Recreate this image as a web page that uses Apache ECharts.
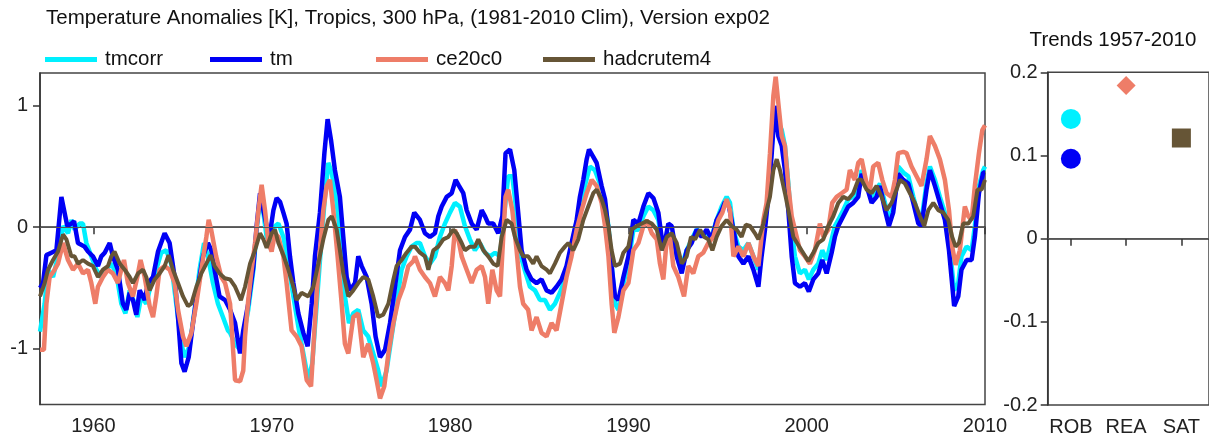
<!DOCTYPE html>
<html><head><meta charset="utf-8">
<script src="https://cdn.jsdelivr.net/npm/echarts@6/dist/echarts.min.js"></script>
<style>html,body{margin:0;padding:0;background:#fff}#c{width:1209px;height:439px}</style>
</head><body><div id="c"></div>
<script>
const seriesNames = ['tmcorr', 'tm', 'ce20c0', 'hadcrutem4'];
const seriesColors = ['#00F0FF', '#0000F5', '#EE7D68', '#665536'];
const yearTicks = [1960, 1970, 1980, 1990, 2000, 2010];
const anomalyTicks = [-1, 0, 1];
const trendCategories = ['ROB', 'REA', 'SAT'];
const trendSeries = ['tmcorr', 'tm', 'ce20c0', 'hadcrutem4'];
const trendCategoryOf = ['ROB', 'ROB', 'REA', 'SAT'];
const trendValues = [0.144, 0.096, 0.184, 0.121];
const trendSymbols = ['circle', 'circle', 'diamond', 'rect'];

const tmcorr = [[1957.0,-0.86],[1957.07,-0.87],[1957.26,-0.63],[1957.45,-0.35],[1957.73,-0.41],[1958.01,-0.24],[1958.29,0.01],[1958.57,-0.05],[1958.76,0.06],[1958.94,-0.02],[1959.22,0.03],[1959.41,0.03],[1959.6,-0.13],[1959.88,-0.24],[1960.16,-0.35],[1960.44,-0.41],[1960.72,-0.35],[1961.0,-0.30],[1961.28,-0.38],[1961.56,-0.63],[1961.79,-0.71],[1962.03,-0.52],[1962.31,-0.63],[1962.46,-0.74],[1962.68,-0.57],[1962.96,-0.63],[1963.24,-0.46],[1963.52,-0.35],[1963.8,-0.21],[1964.08,-0.19],[1964.36,-0.30],[1964.64,-0.63],[1964.93,-0.96],[1965.11,-1.07],[1965.39,-0.98],[1965.67,-0.68],[1965.95,-0.35],[1966.2,-0.13],[1966.42,-0.24],[1966.7,-0.46],[1966.98,-0.63],[1967.26,-0.74],[1967.54,-0.85],[1967.66,-0.87],[1967.94,-0.96],[1968.22,-1.01],[1968.4,-0.90],[1968.68,-0.68],[1968.97,-0.35],[1969.15,-0.02],[1969.34,0.23],[1969.53,0.12],[1969.71,-0.08],[1969.99,-0.13],[1970.18,0.01],[1970.37,0.03],[1970.65,-0.08],[1970.93,-0.30],[1971.21,-0.57],[1971.49,-0.82],[1971.77,-1.04],[1972.05,-1.26],[1972.27,-1.12],[1972.52,-0.63],[1972.8,-0.08],[1972.98,0.25],[1973.17,0.53],[1973.36,0.45],[1973.64,0.20],[1973.92,-0.16],[1974.1,-0.57],[1974.33,-0.79],[1974.57,-0.71],[1974.85,-0.68],[1975.13,-0.85],[1975.41,-0.90],[1975.69,-1.04],[1975.97,-1.18],[1976.16,-1.31],[1976.44,-1.18],[1976.72,-0.90],[1977.0,-0.63],[1977.28,-0.35],[1977.56,-0.24],[1977.84,-0.16],[1978.12,-0.13],[1978.31,-0.13],[1978.59,-0.24],[1978.87,-0.30],[1979.15,-0.24],[1979.43,-0.08],[1979.71,0.03],[1979.99,0.12],[1980.27,0.20],[1980.55,0.17],[1980.83,0.01],[1981.11,-0.10],[1981.39,-0.19],[1981.67,-0.13],[1981.96,-0.21],[1982.24,-0.24],[1982.52,-0.21],[1982.8,-0.24],[1983.04,0.12],[1983.26,0.42],[1983.49,0.42],[1983.73,0.12],[1983.97,-0.24],[1984.24,-0.38],[1984.48,-0.49],[1984.76,-0.52],[1985.04,-0.60],[1985.32,-0.60],[1985.6,-0.68],[1985.88,-0.63],[1986.16,-0.54],[1986.44,-0.43],[1986.72,-0.24],[1987.0,-0.02],[1987.28,0.17],[1987.56,0.34],[1987.84,0.50],[1988.12,0.47],[1988.4,0.36],[1988.68,0.20],[1988.88,0.01],[1989.06,-0.30],[1989.25,-0.63],[1989.44,-0.68],[1989.72,-0.46],[1990.0,-0.30],[1990.28,-0.02],[1990.56,-0.02],[1990.84,0.09],[1991.12,0.17],[1991.4,0.14],[1991.68,0.06],[1991.96,-0.19],[1992.24,-0.05],[1992.43,-0.08],[1992.71,-0.24],[1992.99,-0.32],[1993.27,-0.19],[1993.55,-0.10],[1993.83,-0.02],[1994.11,-0.05],[1994.39,-0.05],[1994.67,-0.08],[1994.95,0.06],[1995.23,0.17],[1995.51,0.25],[1995.7,0.20],[1995.89,-0.02],[1996.17,-0.16],[1996.45,-0.19],[1996.73,-0.13],[1997.01,-0.24],[1997.29,-0.35],[1997.47,-0.19],[1997.66,0.03],[1997.85,0.28],[1998.04,0.67],[1998.22,0.94],[1998.41,0.86],[1998.6,0.80],[1998.78,0.67],[1998.97,0.36],[1999.16,-0.02],[1999.34,-0.24],[1999.62,-0.38],[1999.9,-0.35],[2000.12,-0.43],[2000.37,-0.35],[2000.65,-0.30],[2000.87,-0.19],[2001.12,-0.27],[2001.4,-0.10],[2001.58,0.01],[2001.77,0.06],[2002.05,0.14],[2002.33,0.23],[2002.61,0.25],[2002.89,0.31],[2003.08,0.47],[2003.36,0.36],[2003.64,0.25],[2003.92,0.31],[2004.11,0.36],[2004.39,0.20],[2004.61,0.06],[2004.85,0.17],[2005.13,0.50],[2005.42,0.45],[2005.7,0.42],[2005.98,0.25],[2006.26,0.09],[2006.44,0.06],[2006.72,0.36],[2006.91,0.50],[2007.19,0.39],[2007.47,0.25],[2007.75,0.12],[2007.98,-0.10],[2008.12,-0.30],[2008.27,-0.52],[2008.5,-0.46],[2008.68,-0.24],[2008.97,-0.16],[2009.25,-0.19],[2009.43,0.01],[2009.66,0.34],[2009.9,0.47],[2010.0,0.50]];

const tm = [[1957.0,-0.50],[1957.04,-0.49],[1957.17,-0.46],[1957.36,-0.23],[1957.64,-0.21],[1957.92,-0.19],[1958.2,0.25],[1958.35,0.14],[1958.53,0.01],[1958.76,0.03],[1958.91,0.05],[1959.13,-0.13],[1959.5,-0.16],[1959.69,-0.20],[1959.97,-0.24],[1960.25,-0.32],[1960.44,-0.24],[1960.63,-0.21],[1960.91,-0.13],[1961.09,-0.24],[1961.37,-0.35],[1961.65,-0.63],[1961.84,-0.68],[1962.03,-0.54],[1962.21,-0.60],[1962.4,-0.72],[1962.59,-0.52],[1962.87,-0.60],[1963.06,-0.46],[1963.34,-0.41],[1963.62,-0.20],[1963.99,-0.05],[1964.27,-0.13],[1964.55,-0.41],[1964.74,-0.74],[1964.93,-1.12],[1965.11,-1.19],[1965.34,-1.07],[1965.58,-0.79],[1965.86,-0.49],[1966.14,-0.24],[1966.42,-0.13],[1966.61,-0.19],[1966.79,-0.35],[1967.07,-0.57],[1967.38,-0.60],[1967.66,-0.68],[1967.94,-0.79],[1968.22,-1.04],[1968.4,-0.85],[1968.68,-0.63],[1968.97,-0.32],[1969.15,0.01],[1969.34,0.28],[1969.53,0.14],[1969.71,0.01],[1969.9,-0.05],[1970.09,0.14],[1970.27,0.24],[1970.46,0.21],[1970.65,0.12],[1970.83,0.03],[1971.02,-0.24],[1971.21,-0.46],[1971.49,-0.71],[1971.77,-0.87],[1972.01,-0.98],[1972.24,-0.63],[1972.42,-0.24],[1972.7,0.12],[1972.95,0.61],[1973.13,0.89],[1973.32,0.72],[1973.54,0.47],[1973.82,0.25],[1974.01,-0.08],[1974.2,-0.41],[1974.39,-0.52],[1974.67,-0.46],[1974.85,-0.24],[1975.04,-0.32],[1975.32,-0.41],[1975.6,-0.63],[1975.82,-0.90],[1976.07,-1.07],[1976.35,-1.01],[1976.63,-0.79],[1976.91,-0.49],[1977.19,-0.19],[1977.47,-0.08],[1977.75,-0.02],[1977.99,0.12],[1978.31,0.06],[1978.59,-0.05],[1978.87,-0.08],[1979.15,-0.05],[1979.34,0.09],[1979.53,0.17],[1979.81,0.25],[1980.09,0.28],[1980.31,0.39],[1980.5,0.34],[1980.74,0.28],[1980.93,0.14],[1981.21,0.03],[1981.49,-0.02],[1981.77,0.14],[1981.96,0.09],[1982.14,0.03],[1982.42,0.03],[1982.7,-0.05],[1982.93,0.09],[1983.11,0.61],[1983.36,0.64],[1983.6,0.47],[1983.82,0.12],[1984.01,-0.19],[1984.29,-0.35],[1984.57,-0.43],[1984.85,-0.46],[1985.13,-0.43],[1985.41,-0.52],[1985.69,-0.54],[1985.97,-0.49],[1986.25,-0.43],[1986.53,-0.32],[1986.81,-0.13],[1987.1,0.06],[1987.28,0.25],[1987.47,0.39],[1987.66,0.56],[1987.79,0.64],[1988.03,0.58],[1988.22,0.53],[1988.5,0.34],[1988.69,0.23],[1988.88,-0.02],[1989.06,-0.32],[1989.25,-0.57],[1989.44,-0.60],[1989.72,-0.41],[1990.0,-0.24],[1990.28,0.06],[1990.56,0.03],[1990.84,0.17],[1991.12,0.28],[1991.4,0.24],[1991.68,0.12],[1991.96,-0.19],[1992.24,0.03],[1992.43,0.01],[1992.71,-0.24],[1992.99,-0.38],[1993.27,-0.19],[1993.55,-0.13],[1993.83,-0.02],[1994.11,-0.08],[1994.39,-0.02],[1994.67,-0.10],[1994.95,0.06],[1995.23,0.14],[1995.42,0.21],[1995.64,0.17],[1995.89,-0.02],[1996.17,-0.24],[1996.45,-0.30],[1996.73,-0.24],[1997.01,-0.35],[1997.29,-0.49],[1997.47,-0.24],[1997.66,-0.02],[1997.85,0.25],[1998.04,0.61],[1998.22,1.00],[1998.41,0.75],[1998.6,0.67],[1998.78,0.47],[1998.97,0.14],[1999.16,-0.24],[1999.34,-0.46],[1999.62,-0.49],[1999.9,-0.46],[2000.12,-0.53],[2000.37,-0.43],[2000.65,-0.38],[2000.87,-0.27],[2001.12,-0.38],[2001.4,-0.21],[2001.58,-0.08],[2001.77,0.01],[2002.05,0.09],[2002.33,0.17],[2002.61,0.20],[2002.89,0.25],[2003.08,0.44],[2003.36,0.34],[2003.64,0.20],[2003.92,0.25],[2004.11,0.34],[2004.39,0.14],[2004.61,0.01],[2004.85,0.12],[2005.13,0.44],[2005.42,0.39],[2005.7,0.36],[2005.98,0.20],[2006.26,0.03],[2006.44,0.01],[2006.72,0.31],[2006.91,0.47],[2007.19,0.34],[2007.47,0.20],[2007.75,0.06],[2007.98,-0.19],[2008.12,-0.41],[2008.27,-0.65],[2008.5,-0.57],[2008.68,-0.35],[2008.97,-0.27],[2009.25,-0.27],[2009.43,-0.08],[2009.66,0.28],[2009.9,0.45],[2010.0,0.45]];

const ce20c0 = [[1957.0,-1.01],[1957.07,-1.01],[1957.22,-1.01],[1957.36,-0.63],[1957.54,-0.41],[1957.82,-0.35],[1958.01,-0.30],[1958.29,-0.13],[1958.57,-0.27],[1958.85,-0.35],[1959.13,-0.30],[1959.41,-0.38],[1959.69,-0.35],[1959.88,-0.46],[1960.1,-0.63],[1960.25,-0.49],[1960.53,-0.41],[1960.81,-0.35],[1961.09,-0.38],[1961.37,-0.46],[1961.56,-0.35],[1961.71,-0.27],[1961.93,-0.46],[1962.21,-0.57],[1962.46,-0.41],[1962.64,-0.27],[1962.87,-0.41],[1963.15,-0.65],[1963.34,-0.74],[1963.52,-0.57],[1963.71,-0.35],[1963.99,-0.32],[1964.27,-0.35],[1964.55,-0.46],[1964.74,-0.68],[1965.02,-0.90],[1965.21,-0.98],[1965.49,-0.87],[1965.77,-0.63],[1966.05,-0.35],[1966.33,-0.08],[1966.46,0.06],[1966.6,-0.02],[1966.88,-0.24],[1967.17,-0.41],[1967.38,-0.46],[1967.66,-0.63],[1967.94,-1.26],[1968.22,-1.27],[1968.4,-1.18],[1968.5,-0.90],[1968.68,-0.60],[1968.87,-0.35],[1969.06,-0.13],[1969.25,0.14],[1969.43,0.35],[1969.62,0.14],[1969.81,-0.13],[1969.99,-0.20],[1970.18,-0.05],[1970.37,-0.08],[1970.65,-0.24],[1970.83,-0.46],[1971.11,-0.85],[1971.39,-0.90],[1971.67,-0.98],[1971.96,-1.26],[1972.2,-1.31],[1972.39,-0.85],[1972.61,-0.35],[1972.89,0.14],[1973.08,0.34],[1973.26,0.39],[1973.45,0.14],[1973.69,-0.24],[1973.92,-0.63],[1974.1,-0.96],[1974.29,-1.04],[1974.57,-0.74],[1974.85,-0.71],[1975.13,-1.07],[1975.41,-0.96],[1975.69,-1.12],[1975.88,-1.26],[1976.07,-1.41],[1976.31,-1.31],[1976.54,-1.04],[1976.82,-0.79],[1977.1,-0.60],[1977.38,-0.49],[1977.66,-0.32],[1977.94,-0.28],[1978.03,-0.24],[1978.31,-0.35],[1978.59,-0.41],[1978.87,-0.46],[1979.15,-0.57],[1979.43,-0.41],[1979.71,-0.46],[1979.9,-0.52],[1980.09,-0.32],[1980.27,-0.02],[1980.46,-0.10],[1980.65,-0.24],[1980.93,-0.35],[1981.21,-0.46],[1981.49,-0.35],[1981.77,-0.32],[1981.96,-0.41],[1982.14,-0.63],[1982.37,-0.35],[1982.61,-0.52],[1982.8,-0.57],[1982.98,-0.08],[1983.11,0.25],[1983.26,0.31],[1983.49,0.14],[1983.73,-0.19],[1983.92,-0.49],[1984.1,-0.63],[1984.38,-0.68],[1984.57,-0.85],[1984.85,-0.74],[1985.13,-0.87],[1985.41,-0.90],[1985.69,-0.79],[1985.97,-0.85],[1986.25,-0.63],[1986.53,-0.41],[1986.81,-0.24],[1987.1,-0.02],[1987.38,0.14],[1987.66,0.28],[1987.94,0.39],[1988.22,0.34],[1988.5,0.20],[1988.69,0.01],[1988.88,-0.24],[1989.06,-0.63],[1989.21,-0.87],[1989.44,-0.74],[1989.72,-0.52],[1990.0,-0.46],[1990.28,-0.19],[1990.56,-0.13],[1990.84,0.01],[1991.03,0.06],[1991.31,-0.05],[1991.59,-0.10],[1991.77,-0.30],[1991.96,-0.43],[1992.15,-0.10],[1992.33,-0.08],[1992.52,-0.32],[1992.8,-0.41],[1993.12,-0.57],[1993.36,-0.32],[1993.64,-0.38],[1993.92,-0.24],[1994.2,-0.21],[1994.48,-0.13],[1994.77,-0.08],[1995.05,0.06],[1995.27,0.12],[1995.51,0.23],[1995.7,0.14],[1995.89,-0.24],[1996.17,-0.16],[1996.45,-0.24],[1996.73,-0.13],[1997.01,-0.24],[1997.29,-0.32],[1997.57,0.06],[1997.75,0.20],[1997.94,0.61],[1998.13,1.08],[1998.26,1.24],[1998.41,1.02],[1998.6,0.75],[1998.78,0.67],[1998.97,0.34],[1999.16,0.09],[1999.44,-0.08],[1999.62,-0.19],[1999.9,-0.24],[2000.18,-0.30],[2000.46,-0.19],[2000.74,0.03],[2000.93,-0.08],[2001.21,-0.02],[2001.43,0.20],[2001.68,0.25],[2001.96,0.28],[2002.24,0.31],[2002.42,0.47],[2002.7,0.39],[2002.89,0.53],[2003.08,0.56],[2003.36,0.36],[2003.55,0.31],[2003.73,0.50],[2004.01,0.53],[2004.24,0.39],[2004.48,0.28],[2004.76,0.25],[2004.95,0.39],[2005.13,0.61],[2005.42,0.62],[2005.6,0.61],[2005.88,0.50],[2006.16,0.42],[2006.44,0.34],[2006.72,0.56],[2006.91,0.75],[2007.19,0.67],[2007.47,0.56],[2007.75,0.39],[2007.98,0.14],[2008.16,-0.16],[2008.35,-0.31],[2008.59,-0.19],[2008.87,0.17],[2009.06,0.09],[2009.25,0.06],[2009.43,0.34],[2009.66,0.61],[2009.85,0.80],[2010.0,0.84]];

const hadcrutem4 = [[1957.0,-0.57],[1957.07,-0.57],[1957.26,-0.46],[1957.45,-0.35],[1957.73,-0.27],[1958.01,-0.20],[1958.29,-0.06],[1958.48,-0.10],[1958.76,-0.24],[1958.94,-0.24],[1959.13,-0.30],[1959.41,-0.27],[1959.69,-0.30],[1959.97,-0.32],[1960.25,-0.41],[1960.53,-0.35],[1960.81,-0.32],[1961.0,-0.24],[1961.18,-0.20],[1961.47,-0.30],[1961.75,-0.35],[1962.03,-0.41],[1962.21,-0.46],[1962.5,-0.38],[1962.78,-0.35],[1962.96,-0.41],[1963.15,-0.52],[1963.43,-0.43],[1963.71,-0.38],[1963.99,-0.32],[1964.21,-0.23],[1964.46,-0.35],[1964.74,-0.46],[1965.02,-0.57],[1965.3,-0.65],[1965.49,-0.63],[1965.77,-0.49],[1966.05,-0.38],[1966.33,-0.30],[1966.57,-0.23],[1966.79,-0.32],[1967.07,-0.38],[1967.36,-0.42],[1967.66,-0.43],[1967.94,-0.49],[1968.27,-0.60],[1968.5,-0.49],[1968.78,-0.30],[1969.06,-0.19],[1969.34,-0.05],[1969.53,-0.10],[1969.71,-0.17],[1969.99,-0.05],[1970.18,-0.02],[1970.37,-0.13],[1970.65,-0.23],[1970.93,-0.35],[1971.21,-0.49],[1971.39,-0.60],[1971.67,-0.54],[1972.05,-0.57],[1972.33,-0.49],[1972.61,-0.30],[1972.89,-0.10],[1973.17,0.06],[1973.36,0.09],[1973.64,-0.02],[1973.82,-0.19],[1974.01,-0.38],[1974.29,-0.57],[1974.57,-0.52],[1974.85,-0.46],[1975.13,-0.41],[1975.41,-0.43],[1975.69,-0.57],[1975.97,-0.74],[1976.25,-0.72],[1976.54,-0.63],[1976.82,-0.43],[1977.0,-0.32],[1977.28,-0.27],[1977.56,-0.21],[1977.84,-0.16],[1978.03,-0.16],[1978.31,-0.21],[1978.59,-0.24],[1978.78,-0.35],[1979.06,-0.19],[1979.34,-0.16],[1979.62,-0.10],[1979.9,-0.08],[1980.18,-0.02],[1980.37,-0.05],[1980.65,-0.13],[1980.83,-0.19],[1981.11,-0.16],[1981.39,-0.16],[1981.58,-0.10],[1981.86,-0.19],[1982.14,-0.24],[1982.42,-0.30],[1982.67,-0.32],[1982.89,-0.08],[1983.17,0.06],[1983.45,0.03],[1983.64,-0.08],[1983.92,-0.19],[1984.1,-0.24],[1984.38,-0.24],[1984.66,-0.30],[1984.85,-0.24],[1985.13,-0.32],[1985.41,-0.35],[1985.6,-0.38],[1985.88,-0.30],[1986.16,-0.21],[1986.44,-0.16],[1986.63,-0.13],[1986.91,-0.19],[1987.19,-0.10],[1987.47,0.06],[1987.75,0.17],[1988.03,0.28],[1988.22,0.31],[1988.5,0.23],[1988.69,0.14],[1988.88,0.01],[1989.06,-0.19],[1989.25,-0.32],[1989.53,-0.30],[1989.72,-0.21],[1990.0,-0.16],[1990.18,-0.02],[1990.47,0.01],[1990.75,0.03],[1991.03,0.05],[1991.31,0.03],[1991.59,-0.02],[1991.87,-0.19],[1992.15,-0.08],[1992.43,-0.05],[1992.71,-0.13],[1992.99,-0.30],[1993.27,-0.24],[1993.51,-0.08],[1993.74,-0.10],[1994.02,-0.02],[1994.26,-0.08],[1994.48,-0.10],[1994.71,-0.19],[1994.95,-0.08],[1995.23,0.01],[1995.51,0.06],[1995.79,0.01],[1996.07,-0.02],[1996.35,-0.08],[1996.58,0.02],[1996.82,0.01],[1997.1,-0.05],[1997.29,-0.10],[1997.57,0.03],[1997.75,0.14],[1997.94,0.25],[1998.13,0.47],[1998.32,0.56],[1998.5,0.47],[1998.78,0.28],[1998.97,0.14],[1999.25,-0.08],[1999.71,-0.19],[2000.09,-0.28],[2000.37,-0.21],[2000.65,-0.13],[2000.93,-0.10],[2001.21,0.01],[2001.49,0.09],[2001.77,0.20],[2002.05,0.25],[2002.33,0.23],[2002.61,0.28],[2002.89,0.39],[2003.08,0.39],[2003.36,0.31],[2003.64,0.28],[2003.92,0.34],[2004.2,0.25],[2004.48,0.14],[2004.76,0.20],[2005.04,0.31],[2005.23,0.39],[2005.51,0.36],[2005.79,0.28],[2006.07,0.20],[2006.35,0.09],[2006.59,0.01],[2006.82,0.14],[2007.1,0.20],[2007.38,0.14],[2007.66,0.12],[2007.94,0.06],[2008.16,-0.08],[2008.35,-0.16],[2008.54,-0.13],[2008.78,0.03],[2009.06,0.03],[2009.34,0.09],[2009.58,0.31],[2009.81,0.31],[2010.0,0.39]];

const seriesData = [tmcorr, tm, ce20c0, hadcrutem4];

const SANS = "'Liberation Sans', Arial, sans-serif";
const legendLefts = [45, 210, 376, 543];

const chart = echarts.init(document.getElementById('c'), null, {renderer: 'canvas'});

const lineSeries = seriesNames.map((name, i) => ({
  name: name,
  type: 'line',
  xAxisIndex: 0, yAxisIndex: 0,
  data: seriesData[i],
  showSymbol: false,
  symbol: 'none',
  lineStyle: {color: seriesColors[i], width: i === 3 ? 4 : 4.5},
  itemStyle: {color: seriesColors[i]},
  z: 2 + i,
  markLine: i === 0 ? {
    silent: true, symbol: 'none', label: {show: false},
    lineStyle: {color: '#555', width: 1, type: 'solid'},
    data: [{yAxis: 0}]
  } : undefined
}));

const trendScatter = trendSeries.map((name, i) => ({
  name: name + ' trend',
  type: 'scatter',
  xAxisIndex: 1, yAxisIndex: 1,
  symbol: trendSymbols[i],
  symbolSize: trendSymbols[i] === 'circle' ? 20 : 19,
  data: [[trendCategories.indexOf(trendCategoryOf[i]) + 1, trendValues[i]]],
  itemStyle: {color: seriesColors[i], opacity: 1},
  z: 5,
  markLine: i === 0 ? {
    silent: true, symbol: 'none', label: {show: false},
    lineStyle: {color: '#555', width: 1, type: 'solid'},
    data: [{yAxis: 0}]
  } : undefined
}));

chart.setOption({
  animation: false,
  backgroundColor: '#fff',
  title: {
    text: 'Temperature Anomalies [K], Tropics, 300 hPa, (1981-2010 Clim), Version exp02',
    left: 46, top: 8, padding: 0,
    textStyle: {fontSize: 20.5, fontWeight: 'normal', fontFamily: SANS, color: '#111'}
  },
  graphic: [
    {type: 'text', x: 1113, y: 40, style: {text: 'Trends 1957-2010', font: '20.5px ' + SANS, fill: '#111', verticalAlign: 'middle', align: 'center'}}
  ],
  legend: seriesNames.map((name, i) => ({
    data: [name],
    left: legendLefts[i], top: 49,
    padding: 0,
    icon: 'rect', itemWidth: 52, itemHeight: 5,
    textStyle: {fontSize: 20.5, fontFamily: SANS, color: '#111', padding: [0, 0, 0, 3]},
    selectedMode: false
  })),
  grid: [
    {left: 40, right: 224, top: 73, bottom: 34.5, show: true, borderColor: '#444', borderWidth: 1.5, containLabel: false},
    {left: 1047.7, right: -10, top: 72.3, bottom: 34, show: true, borderColor: '#444', borderWidth: 1.5, containLabel: false}
  ],
  xAxis: [
    {type: 'value', gridIndex: 0, min: 1957, max: 2010,
     axisLine: {show: true, lineStyle: {color: '#333', width: 1.5}},
     axisTick: {show: true, inside: false, length: 7, lineStyle: {color: '#333', width: 1.5}, customValues: yearTicks},
     axisLabel: {show: true, margin: 12, fontSize: 20, fontFamily: SANS, color: '#222', customValues: yearTicks, formatter: v => String(v)},
     splitLine: {show: false}},
    {type: 'value', gridIndex: 1, min: 0.58, max: 3.5,
     axisLine: {show: true, lineStyle: {color: '#333', width: 1.5}},
     axisTick: {show: true, inside: false, length: 7, lineStyle: {color: '#333', width: 1.5}, customValues: [1, 2, 3]},
     axisLabel: {show: true, margin: 12, fontSize: 20, fontFamily: SANS, color: '#222', customValues: [1, 2, 3], formatter: v => trendCategories[Math.round(v) - 1] || ''},
     splitLine: {show: false}}
  ],
  yAxis: [
    {type: 'value', gridIndex: 0, min: -1.46, max: 1.27,
     axisLine: {show: true, lineStyle: {color: '#333', width: 1.5}},
     axisTick: {show: true, inside: false, length: 7, lineStyle: {color: '#333', width: 1.5}, customValues: anomalyTicks},
     axisLabel: {show: true, margin: 12, fontSize: 20, fontFamily: SANS, color: '#222', customValues: anomalyTicks, formatter: v => String(v)},
     splitLine: {show: false}},
    {type: 'value', gridIndex: 1, min: -0.2, max: 0.2, interval: 0.1,
     axisLine: {show: true, lineStyle: {color: '#333', width: 1.5}},
     axisTick: {show: true, inside: false, length: 7, lineStyle: {color: '#333', width: 1.5}},
     axisLabel: {show: true, margin: 10, fontSize: 20, fontFamily: SANS, color: '#222', formatter: v => Math.abs(v) < 1e-9 ? '0' : v.toFixed(1)},
     splitLine: {show: false}}
  ],
  series: lineSeries.concat(trendScatter)
});
</script>
</body></html>
